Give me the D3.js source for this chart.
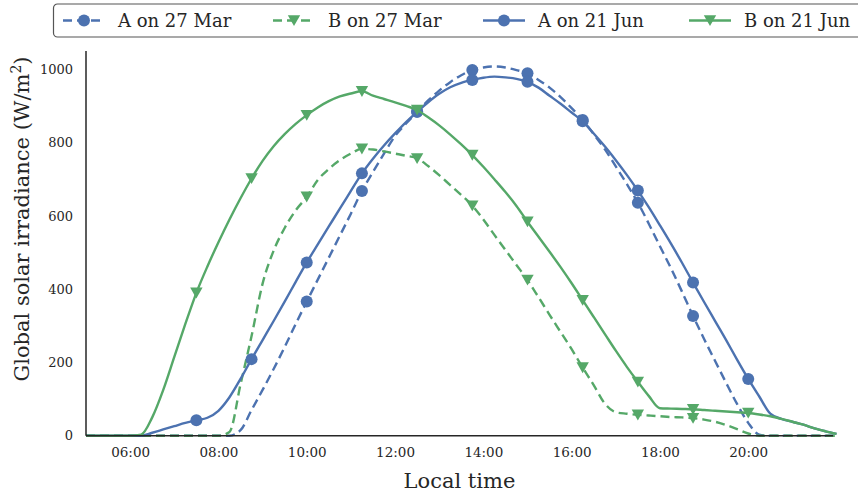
<!DOCTYPE html>
<html><head><meta charset="utf-8">
<script src="https://cdn.jsdelivr.net/npm/d3@7/dist/d3.min.js"></script>
<style>body{margin:0;background:#fff}svg{display:block}</style>
</head><body>
<svg id="chart" width="858" height="495"></svg>
<script>
// ---- data (15-minute grid, 05:00 .. 22:00) ----
const times = ["05:00","05:15","05:30","05:45","06:00","06:15","06:30","06:45","07:00","07:15","07:30","07:45",
"08:00","08:15","08:30","08:45","09:00","09:15","09:30","09:45","10:00","10:15","10:30","10:45",
"11:00","11:15","11:30","11:45","12:00","12:15","12:30","12:45","13:00","13:15","13:30","13:45",
"14:00","14:15","14:30","14:45","15:00","15:15","15:30","15:45","16:00","16:15","16:30","16:45",
"17:00","17:15","17:30","17:45","18:00","18:15","18:30","18:45","19:00","19:15","19:30","19:45",
"20:00","20:15","20:30","20:45","21:00","21:15","21:30","21:45","22:00"];

const aMar = [0,0,0,0,0,0,0,0,0,0,0,0,0,0,15,70,125,182,242,305,366,426,486,546,606,668,720,770,
818,852,884,915,942,965,984,998,1005,1008,1005,998,989,971,950,924,894,862,823,782,735,687,636,578,
517,457,393,327,264,204,144,86,35,3,0,0,0,0,0,0,0];
const bMar = [0,0,0,0,0,0,0,0,0,0,0,0,0,10,140,272,415,505,567,615,652,698,728,752,770,783,781,776,
770,764,757,736,711,684,657,628,590,548,507,466,425,378,330,283,236,186,138,88,64,60,57,55,
53,51,50,48,44,38,29,18,6,0,0,0,0,0,0,0,0];
const aJun = [0,0,0,0,0,0,8,17,26,35,42,49,68,105,155,209,261,313,366,420,473,522,571,620,668,716,756,792,
825,856,884,910,933,951,963,971,977,980,978,974,966,950,928,906,882,858,825,790,752,712,669,623,
574,524,472,418,365,313,261,207,155,107,60,46,38,30,20,12,5];
const bJun = [0,0,0,0,0,3,50,125,215,305,390,462,528,590,648,702,750,790,823,851,875,896,913,926,934,940,928,919,
910,900,889,869,847,822,795,766,734,700,665,627,584,543,502,460,416,370,324,278,232,188,147,108,
75,74,73,72,70,68,66,64,62,58,53,46,38,30,20,12,5];

// marker positions (times at which markers are shown)
const markTimesMar = ["10:00","11:15","12:30","13:45","15:00","16:15","17:30","18:45"];
const markTimesJun = ["07:30","08:45","10:00","11:15","12:30","13:45","15:00","16:15","17:30","18:45","20:00"];

const xTicks = ["06:00","08:00","10:00","12:00","14:00","16:00","18:00","20:00"];
const yTicks = [0,200,400,600,800,1000];

const seriesNames = ["A on 27 Mar","B on 27 Mar","A on 21 Jun","B on 21 Jun"];

// ---- setup ----
const toH = s => { const [h,m] = s.split(":").map(Number); return h + m/60; };
const blue = "#4C72B0", green = "#55A868";
const series = [
  {name: seriesNames[0], vals: aMar, color: blue,  dash: true,  marker: "circle",   marks: markTimesMar},
  {name: seriesNames[1], vals: bMar, color: green, dash: true,  marker: "triangle", marks: markTimesMar},
  {name: seriesNames[2], vals: aJun, color: blue,  dash: false, marker: "circle",   marks: markTimesJun},
  {name: seriesNames[3], vals: bJun, color: green, dash: false, marker: "triangle", marks: markTimesJun}
];

const svg = d3.select("#chart");
const font = "DejaVu Serif";
const txt = "#262626";
const L = 86, R = 833, T = 51, B = 435.7;

const x = d3.scaleLinear().domain([5, 21.92]).range([L, R]);
const y = d3.scaleLinear().domain([0, 1050]).range([B, T]);

// tick labels
const xAxis = d3.axisBottom(x).tickValues(xTicks.map(toH)).tickSize(0).tickPadding(12)
  .tickFormat((d,i) => xTicks[i]);
const gx = svg.append("g").attr("transform", `translate(0,${B})`).call(xAxis);
gx.select(".domain").remove();
gx.selectAll("text").attr("font-family", font).attr("font-size", 13.5).attr("fill", txt);

const yAxis = d3.axisLeft(y).tickValues(yTicks).tickSize(0).tickPadding(13).tickFormat(d3.format("d"));
const gy = svg.append("g").attr("transform", `translate(${L},0)`).call(yAxis);
gy.select(".domain").remove();
gy.selectAll("text").attr("font-family", font).attr("font-size", 13).attr("fill", txt);

// lines
const line = d3.line().x((d,i) => x(toH(times[i]))).y(d => y(d)).curve(d3.curveMonotoneX);

function drawMarker(g, kind, cx, cy, color) {
  if (kind === "circle") {
    g.append("circle").attr("cx", cx).attr("cy", cy).attr("r", 6).attr("fill", color);
  } else {
    g.append("path").attr("d", "M-6.2,-5.2L6.2,-5.2L0,5.6Z")
      .attr("transform", `translate(${cx},${cy})`).attr("fill", color);
  }
}

series.forEach(s => {
  const g = svg.append("g");
  g.append("path").datum(s.vals).attr("d", line).attr("fill", "none")
    .attr("stroke", s.color).attr("stroke-width", 2.4)
    .attr("stroke-dasharray", s.dash ? "9,5" : null);
  s.marks.forEach(t => {
    const i = times.indexOf(t);
    drawMarker(g, s.marker, x(toH(t)), y(s.vals[i]), s.color);
  });
});

// spines
svg.append("line").attr("x1", L).attr("x2", R).attr("y1", B).attr("y2", B)
  .attr("stroke", "#262626").attr("stroke-width", 1.5);
svg.append("line").attr("x1", L).attr("x2", L).attr("y1", T).attr("y2", B)
  .attr("stroke", "#262626").attr("stroke-width", 1.5);

// axis labels
svg.append("text").attr("x", (L + R) / 2).attr("y", 488).attr("text-anchor", "middle")
  .attr("font-family", font).attr("font-size", 21).attr("fill", txt).text("Local time");
const yl = svg.append("text").attr("transform", "translate(29,219) rotate(-90)")
  .attr("text-anchor", "middle").attr("font-family", font).attr("font-size", 21).attr("fill", txt);
yl.append("tspan").text("Global solar irradiance (W/m");
yl.append("tspan").attr("font-size", 14).attr("dy", -8).text("2");
yl.append("tspan").attr("dy", 8).text(")");

// legend
const lg = svg.append("g");
lg.append("rect").attr("x", 53.5).attr("y", 4).attr("width", 840).attr("height", 33).attr("rx", 4)
  .attr("fill", "#fff").attr("stroke", "#555").attr("stroke-width", 1.2);
const legX = [63, 273, 483, 689];
series.forEach((s, k) => {
  const x0 = legX[k], cy = 20.5;
  lg.append("line").attr("x1", x0).attr("x2", x0 + 42).attr("y1", cy).attr("y2", cy)
    .attr("stroke", s.color).attr("stroke-width", 2.4)
    .attr("stroke-dasharray", s.dash ? "9,5" : null);
  drawMarker(lg, s.marker, x0 + 21, cy, s.color);
  lg.append("text").attr("x", x0 + 55).attr("y", cy + 6.5).attr("font-family", font)
    .attr("font-size", 18).attr("fill", txt).text(s.name);
});
</script>
</body></html>
